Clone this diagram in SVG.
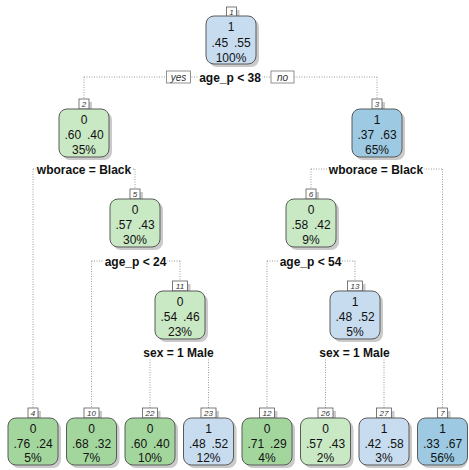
<svg xmlns="http://www.w3.org/2000/svg" width="469" height="470" viewBox="0 0 469 470">
<style>
.bg{fill:#ffffff}
.sh{fill:#b8b8b8;opacity:0.75}
.box{stroke:#5a5a5a;stroke-width:1}
.g1{fill:#c9e8c4}
.g2{fill:#a3d69d}
.b1{fill:#c8dcf0}
.b2{fill:#9dcae2}
.t{font-family:"Liberation Sans",Arial,sans-serif;font-size:12px;fill:#111;text-anchor:middle}
.tag{fill:#fff;stroke:#5a5a5a;stroke-width:0.8}
.tn{font-family:"Liberation Sans",Arial,sans-serif;font-size:8px;font-style:italic;fill:#333;text-anchor:middle}
.sl{font-family:"Liberation Sans",Arial,sans-serif;font-size:12px;font-weight:bold;fill:#111;text-anchor:middle}
.lbg{fill:#fff}
.ln{fill:none;stroke:#9a9a9a;stroke-width:1;stroke-dasharray:1,1.5}
.yn{fill:#fff;stroke:#777;stroke-width:0.8}
.ynt{font-family:"Liberation Sans",Arial,sans-serif;font-size:10px;font-style:italic;fill:#333;text-anchor:middle}
</style>
<rect class="bg" width="469" height="470"/>
<g id="connectors">
<path class="ln" d="M84,77 H377 M84,77 V99 M377,77 V99"/>
<path class="ln" d="M33,169 H135 M33,169 V408 M135,169 V189"/>
<path class="ln" d="M311,169 H442.5 M311,169 V189 M442.5,169 V408"/>
<path class="ln" d="M91.5,261 H180 M91.5,261 V408 M180,261 V281"/>
<path class="ln" d="M267,261 H355 M267,261 V408 M355,261 V281"/>
<path class="ln" d="M150,352 H208.5 M150,352 V408 M208.5,352 V408"/>
<path class="ln" d="M325.5,352 H384 M325.5,352 V408 M384,352 V408"/>
</g>
<g id="split-labels">
<rect class="lbg" x="198" y="70" width="64" height="14"/>
<text class="sl" x="230" y="81.5">age_p &lt; 38</text>
<rect class="yn" x="166.5" y="71" width="24" height="12"/>
<text class="ynt" x="178.5" y="80.5">yes</text>
<rect class="yn" x="271" y="71" width="23" height="12"/>
<text class="ynt" x="282.5" y="80.5">no</text>
<rect class="lbg" x="36" y="162" width="96" height="14"/>
<text class="sl" x="84" y="173.5">wborace = Black</text>
<rect class="lbg" x="328" y="162" width="96" height="14"/>
<text class="sl" x="376" y="173.5">wborace = Black</text>
<rect class="lbg" x="104" y="254" width="63" height="14"/>
<text class="sl" x="135.5" y="265.5">age_p &lt; 24</text>
<rect class="lbg" x="279" y="254" width="63" height="14"/>
<text class="sl" x="310.5" y="265.5">age_p &lt; 54</text>
<rect class="lbg" x="142" y="345" width="73" height="14"/>
<text class="sl" x="178.5" y="356.5">sex = 1 Male</text>
<rect class="lbg" x="318" y="345" width="73" height="14"/>
<text class="sl" x="354.5" y="356.5">sex = 1 Male</text>
</g>
<g id="node1">
<rect class="sh" x="229.5" y="10" width="10" height="10"/>
<rect class="tag" x="226.5" y="7" width="10" height="10"/>
<text class="tn" x="231.5" y="15">1</text>
<rect class="sh" x="209" y="19" width="50" height="48" rx="8"/>
<rect class="box b1" x="206" y="16" width="50" height="48" rx="8"/>
<text class="t" x="231" y="31">1</text>
<text class="t" x="231" y="47">.45<tspan dx="2.5"> .55</tspan></text>
<text class="t" x="231" y="62">100%</text>
</g>
<g id="node2">
<rect class="sh" x="82" y="102" width="10" height="10"/>
<rect class="tag" x="79" y="99" width="10" height="10"/>
<text class="tn" x="84" y="107">2</text>
<rect class="sh" x="62" y="112" width="50" height="48" rx="8"/>
<rect class="box g1" x="59" y="109" width="50" height="48" rx="8"/>
<text class="t" x="84" y="124">0</text>
<text class="t" x="84" y="139">.60<tspan dx="2.5"> .40</tspan></text>
<text class="t" x="84" y="154">35%</text>
</g>
<g id="node3">
<rect class="sh" x="375" y="102" width="10" height="10"/>
<rect class="tag" x="372" y="99" width="10" height="10"/>
<text class="tn" x="377" y="107">3</text>
<rect class="sh" x="355" y="112" width="50" height="48" rx="8"/>
<rect class="box b2" x="352" y="109" width="50" height="48" rx="8"/>
<text class="t" x="377" y="124">1</text>
<text class="t" x="377" y="139">.37<tspan dx="2.5"> .63</tspan></text>
<text class="t" x="377" y="154">65%</text>
</g>
<g id="node5">
<rect class="sh" x="133" y="192" width="10" height="10"/>
<rect class="tag" x="130" y="189" width="10" height="10"/>
<text class="tn" x="135" y="197">5</text>
<rect class="sh" x="113" y="202" width="50" height="48" rx="8"/>
<rect class="box g1" x="110" y="199" width="50" height="48" rx="8"/>
<text class="t" x="135" y="214">0</text>
<text class="t" x="135" y="229">.57<tspan dx="2.5"> .43</tspan></text>
<text class="t" x="135" y="244">30%</text>
</g>
<g id="node6">
<rect class="sh" x="309" y="192" width="10" height="10"/>
<rect class="tag" x="306" y="189" width="10" height="10"/>
<text class="tn" x="311" y="197">6</text>
<rect class="sh" x="289" y="202" width="50" height="48" rx="8"/>
<rect class="box g1" x="286" y="199" width="50" height="48" rx="8"/>
<text class="t" x="311" y="214">0</text>
<text class="t" x="311" y="229">.58<tspan dx="2.5"> .42</tspan></text>
<text class="t" x="311" y="244">9%</text>
</g>
<g id="node11">
<rect class="sh" x="175.5" y="284" width="15" height="10"/>
<rect class="tag" x="172.5" y="281" width="15" height="10"/>
<text class="tn" x="180" y="289">11</text>
<rect class="sh" x="158" y="294" width="50" height="48" rx="8"/>
<rect class="box g1" x="155" y="291" width="50" height="48" rx="8"/>
<text class="t" x="180" y="306">0</text>
<text class="t" x="180" y="321">.54<tspan dx="2.5"> .46</tspan></text>
<text class="t" x="180" y="336">23%</text>
</g>
<g id="node13">
<rect class="sh" x="350.5" y="284" width="15" height="10"/>
<rect class="tag" x="347.5" y="281" width="15" height="10"/>
<text class="tn" x="355" y="289">13</text>
<rect class="sh" x="333" y="294" width="50" height="48" rx="8"/>
<rect class="box b1" x="330" y="291" width="50" height="48" rx="8"/>
<text class="t" x="355" y="306">1</text>
<text class="t" x="355" y="321">.48<tspan dx="2.5"> .52</tspan></text>
<text class="t" x="355" y="336">5%</text>
</g>
<g id="node4">
<rect class="sh" x="31" y="411" width="10" height="10"/>
<rect class="tag" x="28" y="408" width="10" height="10"/>
<text class="tn" x="33" y="416">4</text>
<rect class="sh" x="11" y="421" width="50" height="47" rx="8"/>
<rect class="box g2" x="8" y="418" width="50" height="47" rx="8"/>
<text class="t" x="33" y="433">0</text>
<text class="t" x="33" y="447.5">.76<tspan dx="2.5"> .24</tspan></text>
<text class="t" x="33" y="462">5%</text>
</g>
<g id="node10">
<rect class="sh" x="87" y="411" width="15" height="10"/>
<rect class="tag" x="84" y="408" width="15" height="10"/>
<text class="tn" x="91.5" y="416">10</text>
<rect class="sh" x="69.5" y="421" width="50" height="47" rx="8"/>
<rect class="box g2" x="66.5" y="418" width="50" height="47" rx="8"/>
<text class="t" x="91.5" y="433">0</text>
<text class="t" x="91.5" y="447.5">.68<tspan dx="2.5"> .32</tspan></text>
<text class="t" x="91.5" y="462">7%</text>
</g>
<g id="node22">
<rect class="sh" x="145.5" y="411" width="15" height="10"/>
<rect class="tag" x="142.5" y="408" width="15" height="10"/>
<text class="tn" x="150" y="416">22</text>
<rect class="sh" x="128" y="421" width="50" height="47" rx="8"/>
<rect class="box g2" x="125" y="418" width="50" height="47" rx="8"/>
<text class="t" x="150" y="433">0</text>
<text class="t" x="150" y="447.5">.60<tspan dx="2.5"> .40</tspan></text>
<text class="t" x="150" y="462">10%</text>
</g>
<g id="node23">
<rect class="sh" x="204" y="411" width="15" height="10"/>
<rect class="tag" x="201" y="408" width="15" height="10"/>
<text class="tn" x="208.5" y="416">23</text>
<rect class="sh" x="186.5" y="421" width="50" height="47" rx="8"/>
<rect class="box b1" x="183.5" y="418" width="50" height="47" rx="8"/>
<text class="t" x="208.5" y="433">1</text>
<text class="t" x="208.5" y="447.5">.48<tspan dx="2.5"> .52</tspan></text>
<text class="t" x="208.5" y="462">12%</text>
</g>
<g id="node12">
<rect class="sh" x="262.5" y="411" width="15" height="10"/>
<rect class="tag" x="259.5" y="408" width="15" height="10"/>
<text class="tn" x="267" y="416">12</text>
<rect class="sh" x="245" y="421" width="50" height="47" rx="8"/>
<rect class="box g2" x="242" y="418" width="50" height="47" rx="8"/>
<text class="t" x="267" y="433">0</text>
<text class="t" x="267" y="447.5">.71<tspan dx="2.5"> .29</tspan></text>
<text class="t" x="267" y="462">4%</text>
</g>
<g id="node26">
<rect class="sh" x="321" y="411" width="15" height="10"/>
<rect class="tag" x="318" y="408" width="15" height="10"/>
<text class="tn" x="325.5" y="416">26</text>
<rect class="sh" x="303.5" y="421" width="50" height="47" rx="8"/>
<rect class="box g1" x="300.5" y="418" width="50" height="47" rx="8"/>
<text class="t" x="325.5" y="433">0</text>
<text class="t" x="325.5" y="447.5">.57<tspan dx="2.5"> .43</tspan></text>
<text class="t" x="325.5" y="462">2%</text>
</g>
<g id="node27">
<rect class="sh" x="379.5" y="411" width="15" height="10"/>
<rect class="tag" x="376.5" y="408" width="15" height="10"/>
<text class="tn" x="384" y="416">27</text>
<rect class="sh" x="362" y="421" width="50" height="47" rx="8"/>
<rect class="box b1" x="359" y="418" width="50" height="47" rx="8"/>
<text class="t" x="384" y="433">1</text>
<text class="t" x="384" y="447.5">.42<tspan dx="2.5"> .58</tspan></text>
<text class="t" x="384" y="462">3%</text>
</g>
<g id="node7">
<rect class="sh" x="440.5" y="411" width="10" height="10"/>
<rect class="tag" x="437.5" y="408" width="10" height="10"/>
<text class="tn" x="442.5" y="416">7</text>
<rect class="sh" x="420.5" y="421" width="47" height="47" rx="8"/>
<rect class="box b2" x="417.5" y="418" width="50" height="47" rx="8"/>
<text class="t" x="442.5" y="433">1</text>
<text class="t" x="442.5" y="447.5">.33<tspan dx="2.5"> .67</tspan></text>
<text class="t" x="442.5" y="462">56%</text>
</g>
</svg>
